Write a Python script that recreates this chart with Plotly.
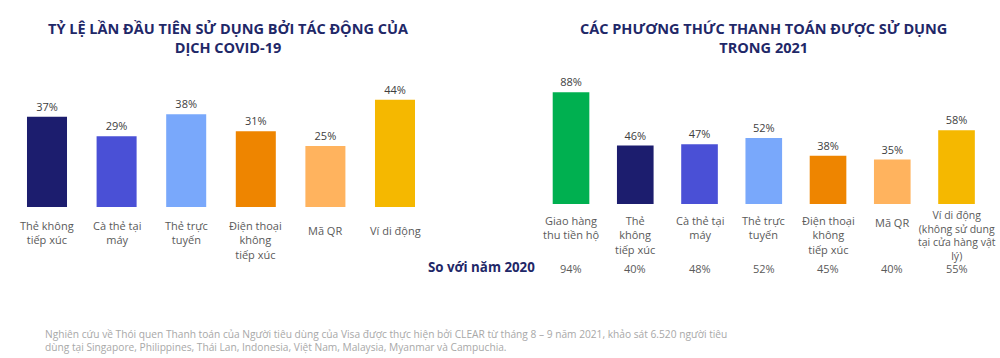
import plotly.graph_objects as go

# ---------------- data ----------------
left_categories = ["Thẻ không<br>tiếp xúc", "Cà thẻ tại<br>máy", "Thẻ trực<br>tuyến",
                   "Điện thoại<br>không<br>tiếp xúc", "Mã QR", "Ví di động"]
left_values = [37, 29, 38, 31, 25, 44]

right_categories = ["Giao hàng<br>thu tiền hộ", "Thẻ<br>không<br>tiếp xúc", "Cà thẻ tại<br>máy",
                    "Thẻ trực<br>tuyến", "Điện thoại<br>không<br>tiếp xúc", "Mã QR",
                    "Ví di động<br>(không sử dung<br>tại cửa hàng vật<br>lý)"]
right_values = [88, 46, 47, 52, 38, 35, 58]
values_2020 = [94, 40, 48, 52, 45, 40, 55]

left_title = "TỶ LỆ LẦN ĐẦU TIÊN SỬ DỤNG BỞI TÁC ĐỘNG CỦA<br>DỊCH COVID-19"
right_title = "CÁC PHƯƠNG THỨC THANH TOÁN ĐƯỢC SỬ DỤNG<br>TRONG 2021"
compare_label = "So với năm 2020"
footnote = ("Nghiên cứu về Thói quen Thanh toán của Người tiêu dùng của Visa được thực hiện bởi CLEAR "
            "từ tháng 8 – 9 năm 2021, khảo sát 6.520 người tiêu<br>dùng tại Singapore, Philippines, "
            "Thái Lan, Indonesia, Việt Nam, Malaysia, Myanmar và Campuchia.")

# ---------------- styles ----------------
NAVY = "#1c1d6e"
BLUE = "#4a50d6"
LBLUE = "#79a8fb"
ORANGE = "#ee8500"
LORANGE = "#ffb35e"
GOLD = "#f5b800"
GREEN = "#00b050"
left_colors = [NAVY, BLUE, LBLUE, ORANGE, LORANGE, GOLD]
right_colors = [GREEN, NAVY, BLUE, LBLUE, ORANGE, LORANGE, GOLD]
TITLE_C = "#1f2868"
LABEL_C = "#5a5a5a"
VAL_C = "#404040"
FONT = "Open Sans"

W, H = 1000, 358

def px_y(y):
    return (H - y) / H

fig = go.Figure()
fig.add_trace(go.Bar(
    x=left_categories, y=left_values, marker=dict(color=left_colors, line=dict(width=0)),
    width=0.575, text=[f"{v}%" for v in left_values], textposition="outside",
    textfont=dict(family=FONT, size=11, color=VAL_C), cliponaxis=False,
    xaxis="x", yaxis="y", hoverinfo="skip"))
fig.add_trace(go.Bar(
    x=right_categories, y=right_values, marker=dict(color=right_colors, line=dict(width=0)),
    width=0.57, text=[f"{v}%" for v in right_values], textposition="outside",
    textfont=dict(family=FONT, size=11, color=VAL_C), cliponaxis=False,
    xaxis="x2", yaxis="y2", hoverinfo="skip"))

axis_common = dict(showgrid=False, zeroline=False, showline=False, showticklabels=False, ticks="", fixedrange=True)

# left: centers 47..395 px, spacing ~69.6 ; baseline 207 px, 2.44 px per %
l0, l1 = 12.2 / W, (12.2 + 6 * 69.6) / W
r0, r1 = 538.9 / W, (538.9 + 7 * 64.25) / W
fig.update_layout(
    width=W, height=H, margin=dict(l=0, r=0, t=0, b=0),
    paper_bgcolor="white", plot_bgcolor="white", showlegend=False,
    font=dict(family=FONT),
    xaxis=dict(domain=[l0, l1], range=[-0.5, 5.5], type="category", **axis_common),
    yaxis=dict(domain=[px_y(207), px_y(207 - 60 * 2.44)], range=[0, 60], **axis_common),
    xaxis2=dict(domain=[r0, r1], range=[-0.5, 6.5], type="category", anchor="y2", **axis_common),
    yaxis2=dict(domain=[px_y(204), px_y(204 - 100 * 1.27)], range=[0, 100], anchor="x2", **axis_common),
)

ann = []
# titles
ann.append(dict(text=f"<b>{left_title}</b>", xref="paper", yref="paper", x=228 / W, y=px_y(38),
                xanchor="center", yanchor="middle", showarrow=False, align="center",
                font=dict(family=FONT, size=14.5, color=TITLE_C)))
ann.append(dict(text=f"<b>{right_title}</b>", xref="paper", yref="paper", x=763 / W, y=px_y(38),
                xanchor="center", yanchor="middle", showarrow=False, align="center",
                font=dict(family=FONT, size=14.5, color=TITLE_C)))

# left category labels
for c in left_categories:
    single = "<br>" not in c
    ann.append(dict(text=c, xref="x", yref="y", x=c, y=0, showarrow=False, align="center",
                    xanchor="center", yanchor="middle" if single else "top",
                    yshift=-23 if single else -9,
                    font=dict(family=FONT, size=11, color=LABEL_C)))
# right category labels
for c in right_categories:
    single = "<br>" not in c
    nlines = c.count("<br>") + 1
    ann.append(dict(text=c, xref="x2", yref="y2", x=c, y=0, showarrow=False, align="center",
                    xanchor="center", yanchor="middle" if single else "top",
                    yshift=-18 if single else (-2 if nlines == 4 else -7),
                    font=dict(family=FONT, size=11 if nlines < 4 else 10.5, color=LABEL_C)))

# comparison row
ann.append(dict(text=f"<b>{compare_label}</b>", xref="paper", yref="paper", x=481 / W, y=px_y(267),
                xanchor="center", yanchor="middle", showarrow=False,
                font=dict(family=FONT, size=13.3, color=TITLE_C)))
for c, v in zip(right_categories, values_2020):
    ann.append(dict(text=f"{v}%", xref="x2", yref="paper", x=c, y=px_y(268), showarrow=False,
                    xanchor="center", yanchor="middle",
                    font=dict(family=FONT, size=11, color=LABEL_C)))

# footnote
ann.append(dict(text=footnote, xref="paper", yref="paper", x=43 / W, y=px_y(340), xanchor="left",
                yanchor="middle", showarrow=False, align="left",
                font=dict(family=FONT, size=10.2, color="#a8a8a8")))

fig.update_layout(annotations=ann)
fig.write_html("out.html", config={"displayModeBar": False},
               post_script="document.body.style.margin='0';document.body.style.overflow='hidden';")
